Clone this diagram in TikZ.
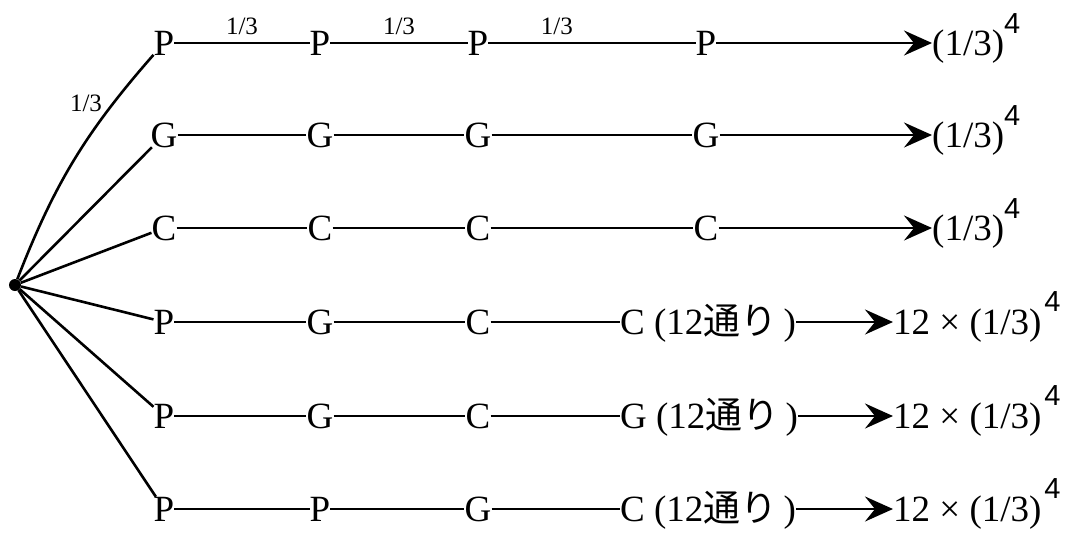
\documentclass[tikz,border=0pt]{standalone}
\usepackage{fontspec}
\setmainfont{Liberation Serif}
\setsansfont{Liberation Sans}
\newfontfamily\cjk{Noto Sans CJK JP}
\usetikzlibrary{arrows.meta}

\newcommand{\fourth}[1]{\raisebox{#1}{\sffamily\fontsize{29}{29}\selectfont 4}}

\begin{document}
\begin{tikzpicture}[x=1pt, y=-1pt,
		letter/.style={inner sep=0pt, text height=24pt, text depth=0pt, font=\fontsize{37}{37}\selectfont},
		result/.style={letter, anchor=west},
		prob/.style={inner sep=0pt, font=\fontsize{25}{25}\selectfont},
		lbl/.style={prob, above=7pt}]
		\useasboundingbox (0,0) rectangle (1072,542);
		\node (0) [circle, fill, inner sep=0pt, minimum size=12pt] at (15,285) {};

		\node (11) [letter] at (164,43) {P};
		\node (12) [letter] at (320,43) {P};
		\node (13) [letter] at (478,43) {P};
		\node (14) [letter] at (706,43) {P};
		\node (15) [result] at (932,43) {(1/3)\fourth{22pt}};

		\node (21) [letter] at (164,135) {G};
		\node (22) [letter] at (320,135) {G};
		\node (23) [letter] at (478,135) {G};
		\node (24) [letter] at (706,135) {G};
		\node (25) [result] at (932,135) {(1/3)\fourth{22pt}};

		\node (31) [letter] at (164,228) {C};
		\node (32) [letter] at (320,228) {C};
		\node (33) [letter] at (478,228) {C};
		\node (34) [letter] at (706,228) {C};
		\node (35) [result] at (932,228) {(1/3)\fourth{22pt}};

		\node (41) [letter] at (164,322) {P};
		\node (42) [letter] at (320,322) {G};
		\node (43) [letter] at (478,322) {C};
		\node (44) [result] at (620,322) {C (12{\cjk 通り}\,)};
		\node (45) [result] at (893,322) {12 × (1/3)\hspace{3pt}\fourth{23pt}};

		\node (51) [letter] at (164,416) {P};
		\node (52) [letter] at (320,416) {G};
		\node (53) [letter] at (478,416) {C};
		\node (54) [result] at (620,416) {G (12{\cjk 通り}\,)};
		\node (55) [result] at (893,416) {12 × (1/3)\hspace{3pt}\fourth{23pt}};

		\node (61) [letter] at (164,509) {P};
		\node (62) [letter] at (320,509) {P};
		\node (63) [letter] at (478,509) {G};
		\node (64) [result] at (620,509) {C (12{\cjk 通り}\,)};
		\node (65) [result] at (893,509) {12 × (1/3)\hspace{3pt}\fourth{23pt}};

		\node (q0) [prob] at (86,103) {1/3};

		\path [line width=2.6pt]
		(0) edge [bend left=10] (11)
		(0) edge (21)
		(0) edge (31)
		(0) edge (41)
		(0) edge (51)
		(0) edge (61)
		(11) edge node (q1) [lbl] {1/3} (12)
		(12) edge node (q2) [lbl] {1/3} (13)
		(13) edge node (q3) [lbl, pos=.33] {1/3} (14)
		(21) edge (22) (22) edge (23) (23) edge (24)
		(31) edge (32) (32) edge (33) (33) edge (34)
		(41) edge (42) (42) edge (43) (43) edge (44)
		(51) edge (52) (52) edge (53) (53) edge (54)
		(61) edge (62) (62) edge (63) (63) edge (64)
		;

		\path [-{Stealth[length=28pt, width=25pt, inset=10pt]}, line width=2.6pt]
		(14) edge (15)
		(24) edge (25)
		(34) edge (35)
		(44) edge (45)
		(54) edge (55)
		(64) edge (65)
		;
	\end{tikzpicture}
\end{document}
